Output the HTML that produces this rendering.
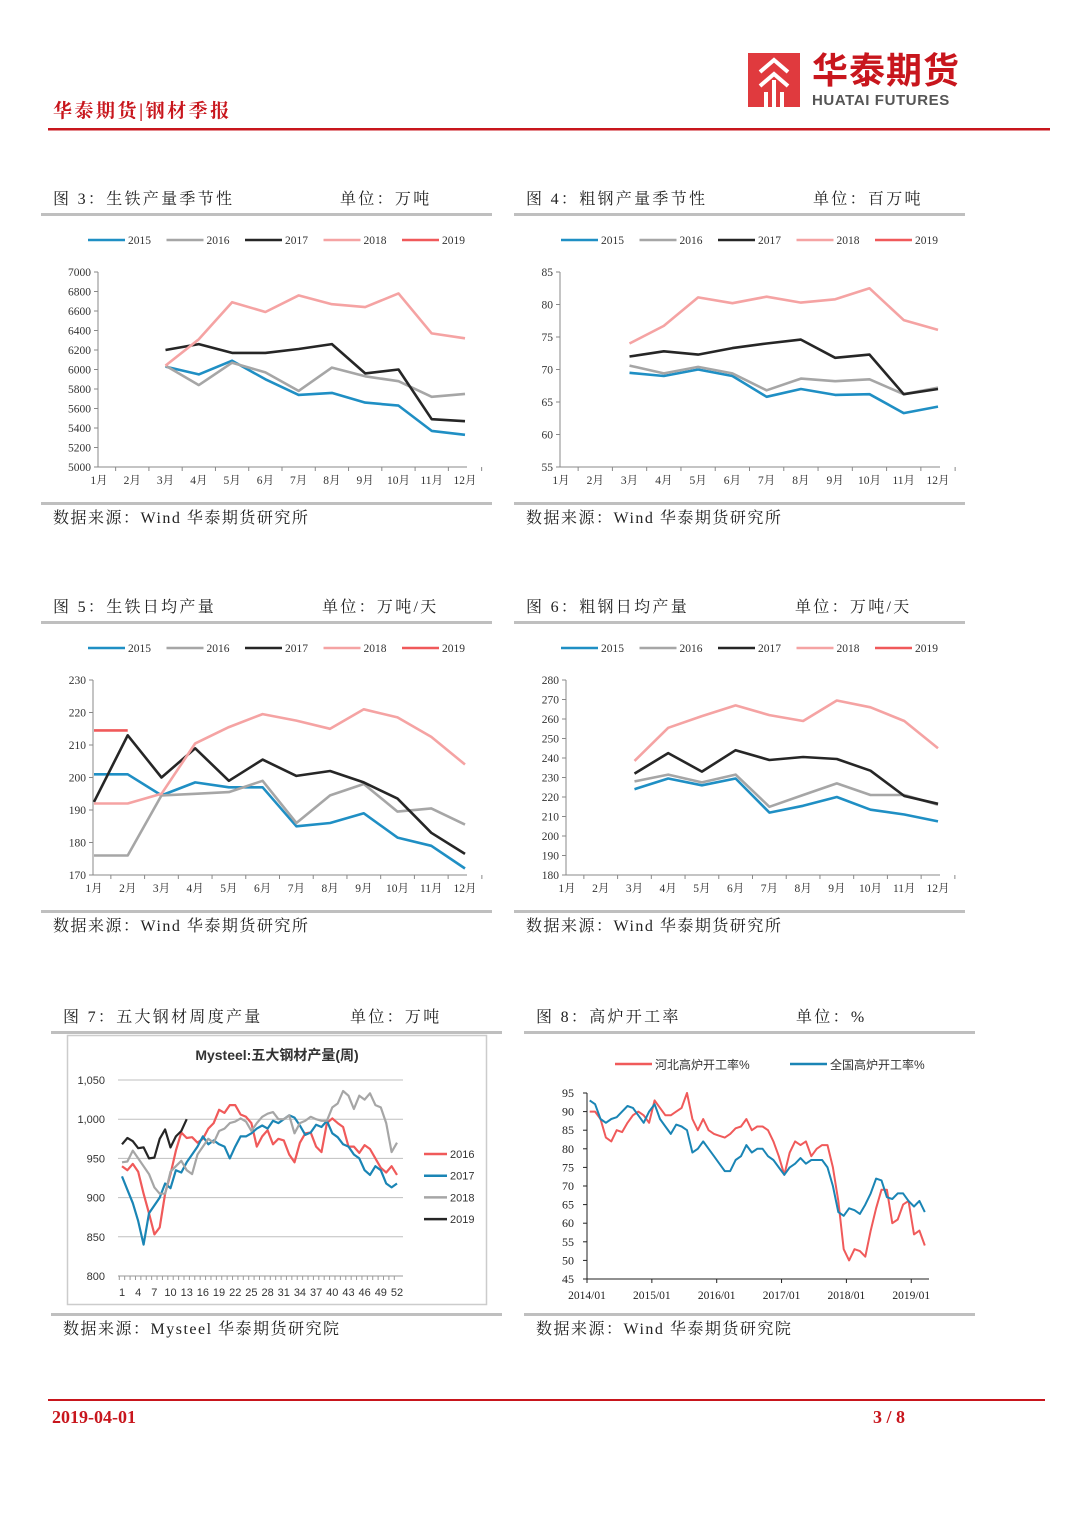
<!DOCTYPE html>
<html><head><meta charset="utf-8">
<style>
html,body{margin:0;padding:0;background:#fff;}
body{width:1080px;height:1527px;position:relative;overflow:hidden;font-family:"Liberation Serif","Noto Serif CJK SC",serif;}
svg{position:absolute;left:0;top:0;}
</style></head>
<body>
<svg id="pg" width="1080" height="1527" xmlns="http://www.w3.org/2000/svg">
  <g>
    <rect x="748" y="53" width="52" height="54" fill="#e03a3e"/>
    <path d="M760 72 L774 60 L788 72 M760 86 L774 74 L788 86 M766 107 V92 M774 107 V80 M782 107 V92" stroke="#fff" stroke-width="4" fill="none"/>
    <text x="812" y="83" font-size="36" font-weight="bold" fill="#c8161d" letter-spacing="1" font-family="Liberation Sans,Noto Sans CJK SC,sans-serif">华泰期货</text>
    <text x="812" y="105" font-size="15" font-weight="bold" fill="#555" font-family="Liberation Sans,sans-serif" letter-spacing="0.6">HUATAI FUTURES</text>
    <text x="53" y="117" font-size="19" font-weight="bold" fill="#c8161d" letter-spacing="2.5" font-family="Liberation Serif,Noto Serif CJK SC,serif">华泰期货|钢材季报</text>
    <rect x="48" y="128" width="1002" height="2.5" fill="#c8161d"/>
  </g>
  <g>
    <rect x="48" y="1399" width="997" height="2" fill="#c8161d"/>
    <text x="52" y="1423" font-size="18" font-weight="bold" fill="#c8161d">2019-04-01</text>
    <text x="873" y="1423" font-size="18" font-weight="bold" fill="#c8161d">3 / 8</text>
  </g>
  <g id="charts"></g>
</svg>
<script>
// ---- Data ----
const months = ['1月','2月','3月','4月','5月','6月','7月','8月','9月','10月','11月','12月'];
const years = ['2015','2016','2017','2018','2019'];
const yearColors = ['#1f8fc4','#a6a6a6','#262626','#f5a3a3','#f0595a'];
// Fig 3 pig iron output (10k t)
const f3_2015 = [null,null,6030,5950,6090,5900,5740,5760,5660,5630,5370,5330];
const f3_2016 = [null,null,6040,5840,6070,5970,5780,6020,5930,5880,5720,5750];
const f3_2017 = [null,null,6200,6260,6170,6170,6210,6260,5960,6000,5490,5470];
const f3_2018 = [null,null,6040,6310,6690,6590,6760,6670,6640,6780,6370,6320];
const f3_2019 = [null,null,null,null,null,null,null,null,null,null,null,null];
const f3_ticks = [5000,5200,5400,5600,5800,6000,6200,6400,6600,6800,7000];
// Fig 4 crude steel output (Mt)
const f4_2015 = [null,null,69.5,69,70,69,65.8,67,66.1,66.2,63.3,64.3];
const f4_2016 = [null,null,70.6,69.4,70.4,69.4,66.8,68.6,68.2,68.5,66.2,67.2];
const f4_2017 = [null,null,72,72.8,72.3,73.3,74,74.6,71.8,72.3,66.2,67.0];
const f4_2018 = [null,null,74,76.7,81.1,80.2,81.2,80.3,80.8,82.5,77.6,76.1];
const f4_2019 = [null,null,null,null,null,null,null,null,null,null,null,null];
const f4_ticks = [55,60,65,70,75,80,85];
// Fig 5 daily pig iron
const f5_2015 = [201,201,194.5,198.5,197,197,185,186,189,181.5,179,172];
const f5_2016 = [176,176,194.5,195,195.5,199,186,194.5,198,189.5,190.5,185.5];
const f5_2017 = [192.5,213,200,209,199,205.5,200.5,202,198.5,193.5,183,176.5];
const f5_2018 = [192,192,195,210.5,215.5,219.5,217.5,215,221,218.5,212.5,204];
const f5_2019 = [214.5,214.5,null,null,null,null,null,null,null,null,null,null];
const f5_ticks = [170,180,190,200,210,220,230];
// Fig 6 daily crude steel
const f6_2015 = [null,null,224,229.5,226,229.5,212,215.5,220,213.5,211,207.5];
const f6_2016 = [null,null,228,231.5,227.5,231.5,215,221,227,221,221,216];
const f6_2017 = [null,null,232,242.5,233,244,239,240.5,239.5,233.5,220.5,216.5];
const f6_2018 = [null,null,238.5,255.5,261.5,267,262,259,269.5,266,259,245];
const f6_2019 = [null,null,null,null,null,null,null,null,null,null,null,null];
const f6_ticks = [180,190,200,210,220,230,240,250,260,270,280];
// Fig 7 weekly output of 5 major steel products
const f7_weeks = Array.from({length:52},(_, i)=>i+1);
const f7_weekLabels = ['1','4','7','10','13','16','19','22','25','28','31','34','37','40','43','46','49','52'];
const f7_2016 = [940,935,943,933,905,880,853,862,905,930,960,983,976,977,970,975,988,995,1012,1008,1018,1018,1006,1003,995,965,978,986,968,975,973,955,945,970,982,983,965,958,995,1001,995,990,965,965,957,967,962,950,938,932,940,929];
const f7_2017 = [927,910,893,870,840,880,890,900,918,912,935,932,945,955,965,978,968,973,968,965,950,965,978,978,982,988,992,988,998,995,1000,1005,1002,992,980,983,993,990,998,982,977,968,965,955,950,935,929,940,935,918,913,918];
const f7_2018 = [945,946,960,950,940,930,913,905,905,933,940,947,935,930,955,965,975,970,985,988,995,997,1001,997,985,995,1003,1007,1009,1000,1000,1005,982,995,998,1003,1000,998,998,1015,1020,1036,1030,1013,1030,1025,1033,1018,1015,995,958,970];
const f7_2019 = [968,976,972,963,964,950,951,975,987,964,978,985,1000];
const f7_ticks = [800,850,900,950,1000,1050];
// Fig 8 blast furnace utilisation, monthly from 2014/01
const f8_dates = ['2014/01','2015/01','2016/01','2017/01','2018/01','2019/01'];
const f8_hebei = [90,90,88,83,82,85,84.5,87,89,90,89,87, 93,91,89,89,90,91,95,88,85,88,85,84, 83.5,83,84,85.5,86,88,85,86,86,85,82,78, 73,79,82,81,82,78,80,81,81,75,66,53, 50,53,52.5,51,58,64,69,69,60,61,65,66, 57,58,54];
const f8_china = [93,92,88,87,88,88.5,90,91.5,91,89,87,90, 92,88,86,84,86.5,86,85,79,80,82,80,78, 76,74,74,77,78,81,79,80,80,78,77,75, 73,75,76,77.5,76,77,77,77,75,70,63,62, 64,63.5,62.5,65,68,72,71.5,67,66.5,68,68,66, 64.5,66,63];
const f8_ticks = [45,50,55,60,65,70,75,80,85,90,95];

// ---- Drawing ----
const NS='http://www.w3.org/2000/svg';
const root=document.getElementById('charts');
function mk(tag,attrs,parent){const e=document.createElementNS(NS,tag);for(const k in attrs)e.setAttribute(k,attrs[k]);(parent||root).appendChild(e);return e;}
function txt(x,y,s,size,parent,anchor,fill,family){const t=mk('text',{x:x,y:y,'font-size':size,'text-anchor':anchor||'start',fill:fill||'#222','font-family':family||'Liberation Serif,Noto Serif CJK SC,serif'},parent);t.textContent=s;return t;}

function panel(px,py,w,num,title,unit,unitX,src,bottomOff){
  const g=mk('g',{});
  
  
  const t=txt(px+12,py,'图 '+num+'：'+title,16,g,'start','#222');
  t.setAttribute('letter-spacing','2.3');
  
  
  const u=txt(unitX,py,'单位：'+unit,16,g,'start','#222');
  u.setAttribute('letter-spacing','2.3');
  
  
  mk('rect',{x:px,y:py+9,width:w,height:3,fill:'#bfbfbf'},g);
  mk('rect',{x:px,y:py+bottomOff,width:w,height:3,fill:'#bfbfbf'},g);
  const s=txt(px+12,py+bottomOff+21,src,16,g,'start','#222');
  s.setAttribute('letter-spacing','1.5');
  
  
  return g;
}

function monthlyChart(g,num,lx,ax,ax1,yTop,yBot,ticks,series){
  series.forEach((s,i)=>{
    const x=lx+i*78.5;
    const le=mk('g',{},g);
    
    
    mk('line',{x1:x,y1:yTop-32,x2:x+37,y2:yTop-32,stroke:yearColors[i],'stroke-width':2.5},le);
    txt(x+40,yTop-28,years[i],11.5,le,'start','#333');
  });
  const ymin=ticks[0],ymax=ticks[ticks.length-1];
  const Y=v=>yBot-(v-ymin)/(ymax-ymin)*(yBot-yTop);
  const X=i=>ax1+i*(ax-ax1)/11;
  const axisX=ax1-1;
  const ag=mk('g',{},g);
  
  
  mk('line',{x1:axisX,y1:yTop,x2:axisX,y2:yBot,stroke:'#888','stroke-width':1},ag);
  mk('line',{x1:axisX,y1:yBot,x2:ax+2,y2:yBot,stroke:'#888','stroke-width':1},ag);
  ticks.forEach(v=>{
    mk('line',{x1:axisX-4,y1:Y(v),x2:axisX,y2:Y(v),stroke:'#888'},ag);
    txt(axisX-7,Y(v)+4,String(v),11.5,ag,'end','#333');
  });
  months.forEach((m,i)=>{
    const step=(ax-ax1)/11;
    mk('line',{x1:X(i)+step/2,y1:yBot,x2:X(i)+step/2,y2:yBot+4,stroke:'#888'},ag);
    txt(X(i),yBot+17,m,11.5,ag,'middle','#333');
  });
  series.forEach((vals,si)=>{
    let d='';let pen=false;
    vals.forEach((v,i)=>{if(v==null){pen=false;return;}d+=(pen?'L':'M')+X(i).toFixed(1)+' '+Y(v).toFixed(1);pen=true;});
    if(!d)return;
    const p=mk('path',{d:d,fill:'none',stroke:yearColors[si],'stroke-width':2.6,'stroke-linejoin':'round'},g);
    
    
  });
}

const SRC='数据来源：Wind 华泰期货研究所';
let g;
g=panel(41,204,451,3,'生铁产量季节性','万吨',340,SRC,298);
monthlyChart(g,3,88,465,99,272,467,f3_ticks,[f3_2015,f3_2016,f3_2017,f3_2018,f3_2019]);
g=panel(514,204,451,4,'粗钢产量季节性','百万吨',813,SRC,298);
monthlyChart(g,4,561,938,561,272,467,f4_ticks,[f4_2015,f4_2016,f4_2017,f4_2018,f4_2019]);
g=panel(41,612,451,5,'生铁日均产量','万吨/天',322,SRC,298);
monthlyChart(g,5,88,465,94,680,875,f5_ticks,[f5_2015,f5_2016,f5_2017,f5_2018,f5_2019]);
g=panel(514,612,451,6,'粗钢日均产量','万吨/天',795,SRC,298);
monthlyChart(g,6,561,938,567,680,875,f6_ticks,[f6_2015,f6_2016,f6_2017,f6_2018,f6_2019]);

// Fig 7
g=panel(51,1022,451,7,'五大钢材周度产量','万吨',350,'数据来源：Mysteel  华泰期货研究院',291);
(function(){
  mk('rect',{x:67.5,y:1035.5,width:419,height:269,fill:'none',stroke:'#ccc','stroke-width':1.5},g);
  const t=txt(277,1060,'Mysteel:五大钢材产量(周)',14,g,'middle','#333','Liberation Sans,Noto Sans CJK SC,sans-serif');
  t.setAttribute('font-weight','bold');
  
  
  const yTop=1080,yBot=1276,x1=122,x52=397;
  const Y=v=>yBot-(v-800)/250*(yBot-yTop);
  const X=w=>x1+(w-1)*(x52-x1)/51;
  f7_ticks.forEach(v=>{
    if(v>800) mk('line',{x1:118,y1:Y(v),x2:403,y2:Y(v),stroke:'#bfbfbf'},g);
    txt(105,Y(v)+4,v>=1000?v.toString().replace(/^(\d)(\d{3})$/,'$1,$2'):String(v),11,g,'end','#333','Liberation Sans,sans-serif');
  });
  mk('line',{x1:118,y1:yBot,x2:403,y2:yBot,stroke:'#999'},g);
  f7_weeks.forEach(w=>mk('line',{x1:X(w)-2.7,y1:yBot,x2:X(w)-2.7,y2:yBot+4,stroke:'#999'},g));
  f7_weekLabels.forEach(l=>txt(X(+l),yBot+20,l,11,g,'middle','#333','Liberation Sans,sans-serif'));
  const ser=[['2016',f7_2016,'#f05a5a'],['2017',f7_2017,'#1a85b5'],['2018',f7_2018,'#a6a6a6'],['2019',f7_2019,'#262626']];
  ser.forEach((s,i)=>{
    const d=s[1].map((v,k)=>(k?'L':'M')+X(k+1).toFixed(1)+' '+Y(v).toFixed(1)).join('');
    const p=mk('path',{d:d,fill:'none',stroke:s[2],'stroke-width':2.2,'stroke-linejoin':'round'},g);
    
    
    const ly=1154+i*21.7;
    const le=mk('g',{},g);
    
    
    mk('line',{x1:424,y1:ly,x2:447,y2:ly,stroke:s[2],'stroke-width':2.5},le);
    txt(450,ly+4,s[0],11,le,'start','#333','Liberation Sans,sans-serif');
  });
})();

// Fig 8
g=panel(524,1022,451,8,'高炉开工率','%',796,'数据来源：Wind  华泰期货研究院',291);
(function(){
  const yTop=1093,yBot=1279,x0=587,xYear=64.85;
  const Y=v=>yBot-(v-45)/50*(yBot-yTop);
  const X=m=>x0+m*xYear/12;
  const ag=mk('g',{},g);
  
  
  mk('line',{x1:x0,y1:yTop,x2:x0,y2:yBot,stroke:'#222'},ag);
  mk('line',{x1:x0,y1:yBot,x2:929,y2:yBot,stroke:'#222'},ag);
  f8_ticks.forEach(v=>{mk('line',{x1:x0-4,y1:Y(v),x2:x0,y2:Y(v),stroke:'#222'},ag);txt(x0-13,Y(v)+4,String(v),12,ag,'end','#222');});
  f8_dates.forEach((d,i)=>{mk('line',{x1:X(i*12),y1:yBot,x2:X(i*12),y2:yBot+4,stroke:'#222'},ag);txt(X(i*12),yBot+20,d,11.5,ag,'middle','#222');});
  const ser=[['hebei',f8_hebei,'#f05a5a','河北高炉开工率%',615],['china',f8_china,'#1a85b5','全国高炉开工率%',790]];
  ser.forEach(s=>{
    const d=s[1].map((v,k)=>(k?'L':'M')+X(k+0.5).toFixed(1)+' '+Y(v).toFixed(1)).join('');
    const p=mk('path',{d:d,fill:'none',stroke:s[2],'stroke-width':2,'stroke-linejoin':'round'},g);
    
    
    const le=mk('g',{},g);
    
    
    mk('line',{x1:s[4],y1:1064,x2:s[4]+37,y2:1064,stroke:s[2],'stroke-width':2.5},le);
    txt(s[4]+40,1069,s[3],12,le,'start','#333','Liberation Sans,Noto Sans CJK SC,sans-serif');
  });
})();
</script>
</body></html>
